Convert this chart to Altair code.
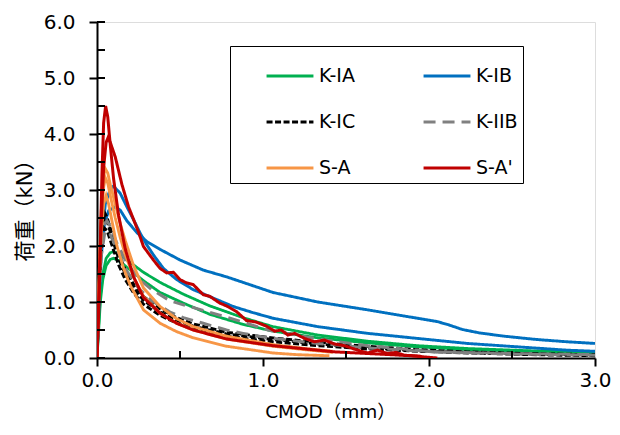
import altair as alt
import pandas as pd

FONT = "DejaVu Sans, Noto Sans CJK JP"

SERIES = ["K-IA", "K-IB", "K-IC", "K-IIB", "S-A", "S-A'"]
COLORS = ["#00B050", "#0070C0", "#000000", "#808080", "#F79646", "#C00000"]
DASHES = [[1, 0], [1, 0], [6, 2.5], [12, 7], [1, 0], [1, 0]]
WIDTHS = [2.8, 2.8, 3.0, 2.8, 2.8, 1.8]

# legend fills column by column: order the entries so rows read K-IA/K-IB, K-IC/K-IIB, S-A/S-A'
LEGEND_ORDER = [0, 2, 4, 1, 3, 5]

X_TICKS = [0, 1, 2, 3]
Y_TICKS = [0, 1, 2, 3, 4, 5, 6]
X_MINOR = [0.5, 1.5, 2.5]
Y_INNER = [0, 0.5, 1, 1.5, 2, 2.5, 3, 3.5, 4, 4.5, 5, 5.5, 6]

# K-IA (green)
IA_X = [0, 0.01, 0.02, 0.035, 0.055, 0.08, 0.10, 0.13, 0.18, 0.28, 0.38, 0.52, 0.68, 0.88, 1.06, 1.33, 1.63, 1.93, 2.23, 2.6, 3.0]
IA1_Y = [0, 0.6, 1.1, 1.5, 1.78, 1.88, 1.90, 1.86, 1.75, 1.53, 1.35, 1.14, 0.93, 0.72, 0.56, 0.41, 0.30, 0.22, 0.17, 0.13, 0.10]
IA2_Y = [0, 0.5, 1.0, 1.4, 1.65, 1.76, 1.78, 1.74, 1.62, 1.38, 1.17, 0.98, 0.78, 0.60, 0.48, 0.36, 0.27, 0.20, 0.15, 0.12, 0.09]

# K-IB (blue)
IB1_X = [0, 0.01, 0.025, 0.045, 0.07, 0.11, 0.14, 0.18, 0.24, 0.30, 0.38, 0.50, 0.64, 0.78, 0.92, 1.06, 1.33, 1.63, 1.93, 2.05, 2.12, 2.20, 2.30, 2.45, 2.65, 2.83, 3.0]
IB1_Y = [0, 0.8, 1.8, 2.4, 2.63, 2.70, 2.64, 2.45, 2.24, 2.08, 1.94, 1.75, 1.57, 1.45, 1.31, 1.17, 1.00, 0.86, 0.71, 0.65, 0.59, 0.51, 0.45, 0.39, 0.33, 0.29, 0.26]
IB2_X = [0, 0.01, 0.025, 0.05, 0.08, 0.10, 0.14, 0.18, 0.22, 0.26, 0.30, 0.34, 0.40, 0.48, 0.58, 0.70, 0.82, 0.94, 1.06, 1.33, 1.63, 1.93, 2.23, 2.53, 2.83, 3.0]
IB2_Y = [0, 0.9, 2.0, 2.75, 3.02, 3.07, 2.94, 2.70, 2.47, 2.23, 2.02, 1.84, 1.60, 1.40, 1.22, 1.07, 0.92, 0.81, 0.71, 0.56, 0.44, 0.35, 0.26, 0.20, 0.14, 0.12]

# K-IC (black dashed)
IC_X = [0, 0.008, 0.02, 0.035, 0.045, 0.06, 0.08, 0.10, 0.13, 0.17, 0.22, 0.28, 0.38, 0.48, 0.58, 0.78, 1.06, 1.33, 1.63, 1.93, 2.23, 2.6, 3.0]
IC1_Y = [0, 0.9, 1.9, 2.4, 2.52, 2.45, 2.25, 2.05, 1.78, 1.50, 1.25, 1.03, 0.82, 0.67, 0.57, 0.43, 0.33, 0.25, 0.18, 0.13, 0.10, 0.07, 0.05]
IC2_Y = [0, 0.8, 1.7, 2.2, 2.32, 2.28, 2.10, 1.92, 1.66, 1.40, 1.16, 0.96, 0.76, 0.62, 0.52, 0.39, 0.29, 0.22, 0.16, 0.12, 0.09, 0.06, 0.04]
IC3_Y = [0, 1.0, 2.0, 2.5, 2.60, 2.52, 2.32, 2.12, 1.86, 1.58, 1.32, 1.10, 0.88, 0.72, 0.61, 0.46, 0.36, 0.28, 0.21, 0.15, 0.11, 0.08, 0.06]

# K-IIB (gray dashed)
IIB_X = [0, 0.01, 0.025, 0.045, 0.06, 0.08, 0.12, 0.18, 0.25, 0.33, 0.44, 0.52, 0.64, 0.78, 0.88, 1.03, 1.33, 1.63, 2.03, 2.5, 3.0]
IIB1_Y = [0, 1.0, 2.0, 2.4, 2.45, 2.35, 2.05, 1.70, 1.42, 1.22, 1.02, 0.95, 0.85, 0.73, 0.64, 0.50, 0.34, 0.22, 0.11, 0.07, 0.05]
IIB2_Y = [0, 0.9, 1.8, 2.2, 2.28, 2.20, 1.95, 1.55, 1.25, 1.02, 0.82, 0.72, 0.62, 0.50, 0.44, 0.36, 0.26, 0.18, 0.11, 0.08, 0.06]

# S-A (orange)
SA_X = [0, 0.01, 0.025, 0.04, 0.05, 0.065, 0.08, 0.11, 0.14, 0.17, 0.22, 0.28, 0.38, 0.48, 0.58, 0.78, 1.06, 1.25, 1.42]
SA1_Y = [0, 1.2, 2.6, 3.25, 3.38, 3.30, 3.10, 2.75, 2.40, 2.10, 1.65, 1.25, 0.92, 0.70, 0.56, 0.39, 0.24, 0.17, 0.12]
SA2_Y = [0, 1.1, 2.4, 3.05, 3.22, 3.12, 2.90, 2.50, 2.15, 1.85, 1.45, 1.10, 0.80, 0.62, 0.50, 0.34, 0.21, 0.15, 0.10]
SA3_X = [0, 0.01, 0.025, 0.04, 0.055, 0.07, 0.09, 0.12, 0.16, 0.20, 0.28, 0.38, 0.48, 0.58, 0.78, 1.06, 1.20, 1.40]
SA3_Y = [0, 1.0, 2.2, 2.75, 2.90, 2.75, 2.45, 2.00, 1.60, 1.30, 0.86, 0.62, 0.47, 0.36, 0.21, 0.09, 0.06, 0.04]

# S-A' (red)
SAP1_X = [0, 0.01, 0.02, 0.03, 0.04, 0.052, 0.065, 0.08, 0.10, 0.13, 0.17, 0.22, 0.28, 0.38, 0.48, 0.58, 0.78, 1.06, 1.43, 1.83, 1.95]
SAP1_Y = [0, 0.8, 2.0, 3.3, 4.2, 4.50, 4.30, 3.80, 3.20, 2.55, 1.95, 1.45, 1.08, 0.80, 0.62, 0.50, 0.34, 0.22, 0.11, 0.05, 0.03]
SAP2_X = [0, 0.01, 0.025, 0.04, 0.055, 0.066, 0.08, 0.11, 0.15, 0.19, 0.25, 0.28, 0.31, 0.34, 0.38, 0.42, 0.46, 0.50, 0.54, 0.58,
          0.64, 0.68, 0.74, 0.78, 0.84, 0.90, 0.96, 1.02, 1.07, 1.11, 1.15, 1.19, 1.25, 1.31, 1.37, 1.43, 1.49, 1.57, 1.63, 1.69,
          1.75, 1.80, 1.85, 1.91, 1.97, 2.05]
SAP2_Y = [0, 1.0, 2.4, 3.4, 3.85, 3.93, 3.85, 3.59, 3.10, 2.70, 2.25, 1.99, 1.87, 1.75, 1.60, 1.52, 1.53, 1.40, 1.34, 1.31,
          1.13, 1.10, 0.98, 0.93, 0.83, 0.67, 0.64, 0.57, 0.48, 0.50, 0.41, 0.44, 0.35, 0.29, 0.32, 0.25, 0.22, 0.14, 0.09, 0.14,
          0.08, 0.10, 0.05, 0.04, 0.02, 0.0]

CURVES = [
    ("K-IA", "IA1", IA_X, IA1_Y), ("K-IA", "IA2", IA_X, IA2_Y),
    ("K-IB", "IB1", IB1_X, IB1_Y), ("K-IB", "IB2", IB2_X, IB2_Y),
    ("K-IC", "IC1", IC_X, IC1_Y), ("K-IC", "IC2", IC_X, IC2_Y), ("K-IC", "IC3", IC_X, IC3_Y),
    ("K-IIB", "IIB1", IIB_X, IIB1_Y), ("K-IIB", "IIB2", IIB_X, IIB2_Y),
    ("S-A", "SA1", SA_X, SA1_Y), ("S-A", "SA2", SA_X, SA2_Y), ("S-A", "SA3", SA3_X, SA3_Y),
    ("S-A'", "SAP1", SAP1_X, SAP1_Y), ("S-A'", "SAP2", SAP2_X, SAP2_Y),
]

rows = []
for s, c, xs, ys in CURVES:
    for i, (xv, yv) in enumerate(zip(xs, ys)):
        rows.append({"series": s, "curve": c, "x": xv, "y": yv, "i": i})
df = pd.DataFrame(rows)

DOM = [SERIES[k] for k in LEGEND_ORDER]
COL = [COLORS[k] for k in LEGEND_ORDER]
DSH = [DASHES[k] for k in LEGEND_ORDER]
WID = [WIDTHS[k] for k in LEGEND_ORDER]

W, H = 498, 336

xscale = alt.Scale(domain=[0, 3], nice=False, zero=False)
yscale = alt.Scale(domain=[0, 6], nice=False)

leg = alt.Legend(
    title=None, orient="none", legendX=133, legendY=24, columns=2,
    strokeColor="black", padding=5, rowPadding=11, columnPadding=36,
    symbolType="stroke", symbolSize=2200, symbolStrokeWidth=2.5, symbolOffset=30,
    labelFont=FONT, labelFontSize=19, labelColor="black", labelOffset=4, labelLimit=0,
)

lines = alt.Chart(df).mark_line(clip=True).encode(
    x=alt.X("x:Q", scale=xscale, title="CMOD（mm）",
            axis=alt.Axis(values=X_TICKS, format=".1f", grid=False, tickSize=8, tickWidth=2,
                          domainColor="black", domainWidth=2, tickColor="black", labelFlush=False,
                          labelFont=FONT, labelFontSize=20, labelColor="black", labelPadding=4,
                          titleFont=FONT, titleFontSize=18.5, titleFontWeight="normal", titleColor="black",
                          titleX=233, titleY=53, titleAlign="center", titleBaseline="middle")),
    y=alt.Y("y:Q", scale=yscale, title="荷重（kN）",
            axis=alt.Axis(values=Y_TICKS, format=".1f", grid=False, tickSize=8, tickWidth=2,
                          domainColor="black", domainWidth=2, tickColor="black", labelFlush=False,
                          labelFont=FONT, labelFontSize=20, labelColor="black", labelPadding=14,
                          titleFont=FONT, titleFontSize=21, titleFontWeight="normal", titleColor="black",
                          titleX=-72, titleY=183, titleAlign="center", titleBaseline="middle")),
    color=alt.Color("series:N", scale=alt.Scale(domain=DOM, range=COL), legend=leg),
    strokeDash=alt.StrokeDash("series:N", scale=alt.Scale(domain=DOM, range=DSH), legend=leg),
    strokeWidth=alt.StrokeWidth("series:N", scale=alt.Scale(domain=DOM, range=WID), legend=None),
    detail="curve:N",
    order="i:Q",
)

ytick_df = pd.DataFrame({"v": Y_INNER})
xtick_df = pd.DataFrame({"v": X_MINOR})

yin = alt.Chart(ytick_df).mark_rule(color="black", strokeWidth=2).encode(
    y=alt.Y("v:Q", scale=yscale), x=alt.value(0), x2=alt.value(8))
xin = alt.Chart(xtick_df).mark_rule(color="black", strokeWidth=2).encode(
    x=alt.X("v:Q", scale=xscale), y=alt.value(H), y2=alt.value(H - 7))

chart = alt.layer(lines, yin, xin).properties(
    width=W, height=H,
    padding={"left": 97, "top": 22, "right": 25, "bottom": 77},
    autosize=alt.AutoSizeParams(type="none"),
).configure_view(stroke=None).configure(background="white")

chart.save("out.html", embed_options={"renderer": "svg", "actions": False})
